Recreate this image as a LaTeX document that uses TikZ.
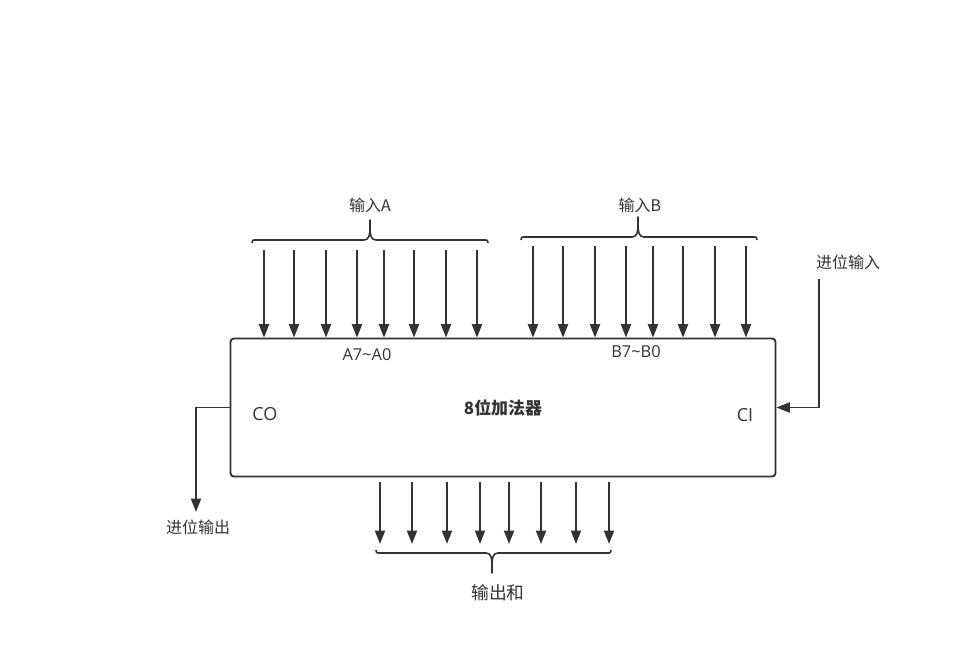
\documentclass[tikz,border=0pt]{standalone}
\usepackage{fontspec}
\setmainfont{Open Sans}
\newfontfamily\cjk{Noto Sans CJK SC}
\usetikzlibrary{arrows.meta}
\definecolor{ink}{HTML}{333333}
\newcommand\mybrace[5]{%
  \draw[brc] (#1,#4+3*#5) .. controls (#1,#4) .. (#1+5,#4) -- (#3-6,#4)
    .. controls (#3-1,#4) and (#3,#4-5*#5) .. (#3,#4-12*#5) -- (#3,#4-20*#5)
    -- (#3,#4-12*#5) .. controls (#3,#4-5*#5) and (#3+1,#4) .. (#3+6,#4)
    -- (#2-5,#4) .. controls (#2,#4) .. (#2,#4+3*#5);}
\begin{document}
\begin{tikzpicture}[x=0.75pt,y=-0.75pt,
  arr/.style={draw=ink,line width=1.4pt,-{Triangle[length=10pt,width=7.5pt]}},
  brc/.style={draw=ink,line width=1.2pt,line join=round},
  lbl/.style={text=ink,inner sep=0pt,font=\cjk\fontsize{12pt}{14pt}\selectfont},
  pin/.style={text=ink,inner sep=0pt,font=\fontsize{12.3pt}{14pt}\selectfont},
  port/.style={text=ink,inner sep=0pt,font=\fontsize{13.5pt}{15pt}\selectfont}]
\path[use as bounding box] (0,0) rectangle (961,668);
\node[draw=ink,line width=1.4pt,rounded corners=2.5pt,minimum width=408.75pt,minimum height=103.5pt,
  inner sep=0pt,text=ink,font=\cjk\bfseries\fontsize{12.7pt}{14pt}\selectfont] (add) at (503,407.5) {8位加法器};
% input A
\foreach \x [count=\i] in {264,294,326,357,384,414,446,477}{
  \coordinate (a\i) at (\x,250);
  \draw[arr] (a\i) -- (a\i |- add.north);}
% input B
\foreach \x [count=\i] in {533,563,595,626,653,683,715,746}{
  \coordinate (b\i) at (\x,246);
  \draw[arr] (b\i) -- (b\i |- add.north);}
% outputs
\foreach \x [count=\i] in {380,412,447,480,509,541,576,609}{
  \coordinate (s\i) at (\x,544);
  \draw[arr] ([yshift=-3.75pt]add.south -| s\i) -- (s\i);}
\mybrace{252}{488}{370}{240}{1}
\mybrace{521}{757}{638}{237}{1}
\mybrace{376}{611}{492}{553}{-1}
\node[lbl] (la) at (370,205) {输入A};
\node[lbl] (lb) at (640,205) {输入B};
\node[lbl,font=\cjk\fontsize{13.3pt}{15pt}\selectfont] (ls) at (498,593) {输出和};
\node[pin] (pa) at (367,355) {A7\textasciitilde A0};
\node[pin] (pb) at (636,352) {B7\textasciitilde B0};
\node[port] (pco) at (265,414) {CO};
\node[port] (pci) at (745,415) {CI};
% carry out
\coordinate (co) at (196,512);
\draw[arr] (add.west) -| (co);
\node[lbl] (lco) at (198,527) {进位输出};
% carry in
\coordinate (ci) at (819,279);
\draw[arr] (ci) |- (add.east);
\node[lbl] (lci) at (848,262) {进位输入};
\end{tikzpicture}
\end{document}
